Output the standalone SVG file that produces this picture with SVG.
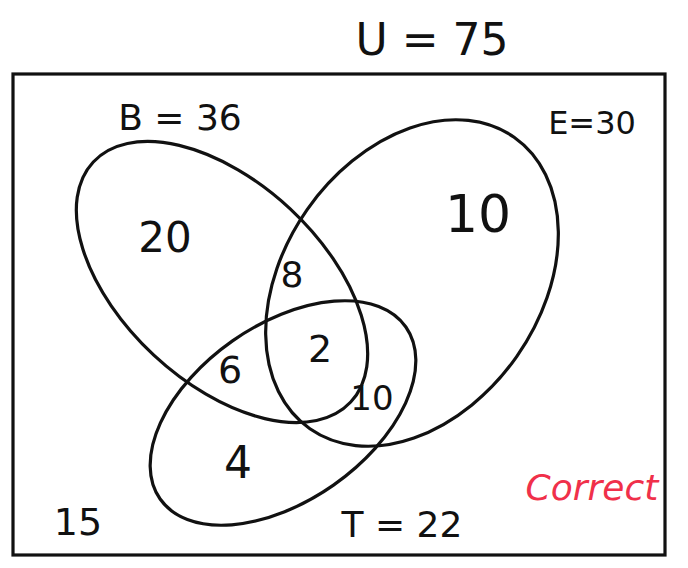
<svg xmlns="http://www.w3.org/2000/svg" width="688" height="568" viewBox="0 0 688 568">
<style>
.l{fill:none;stroke:#111;stroke-width:3.2;stroke-linecap:round}
.t{font-family:"DejaVu Sans",sans-serif;fill:#111}
</style>
<rect width="688" height="568" fill="#fff"/>
<g id="universe"><rect class="l" x="13" y="74" width="652" height="481"/></g>
<g id="connectors"></g>
<g id="setB"><ellipse class="l" cx="222" cy="282" rx="176" ry="100" transform="rotate(43 222 282)"/></g>
<g id="setE"><ellipse class="l" cx="412" cy="283" rx="178" ry="128" transform="rotate(-55 412 283)"/></g>
<g id="setT"><ellipse class="l" cx="283" cy="413" rx="150" ry="88" transform="rotate(-35 283 413)"/></g>
<g id="labels">
<text class="t" x="432" y="55" font-size="44" text-anchor="middle">U = 75</text>
<text class="t" x="180" y="130" font-size="36" text-anchor="middle">B = 36</text>
<text class="t" x="592" y="134" font-size="32" text-anchor="middle">E=30</text>
<text class="t" x="165" y="252" font-size="42" text-anchor="middle">20</text>
<text class="t" x="478" y="232" font-size="52" text-anchor="middle">10</text>
<text class="t" x="292" y="287" font-size="36" text-anchor="middle">8</text>
<text class="t" x="230" y="383" font-size="38" text-anchor="middle">6</text>
<text class="t" x="320" y="362" font-size="38" text-anchor="middle">2</text>
<text class="t" x="372" y="410" font-size="34" text-anchor="middle">10</text>
<text class="t" x="238" y="478" font-size="44" text-anchor="middle">4</text>
<text class="t" x="78" y="535" font-size="38" text-anchor="middle">15</text>
<text class="t" x="402" y="537" font-size="36" text-anchor="middle">T = 22</text>
<text class="t" x="592" y="500" font-size="36" text-anchor="middle" style="fill:#f0304a;font-style:italic">Correct</text>
</g>
</svg>
